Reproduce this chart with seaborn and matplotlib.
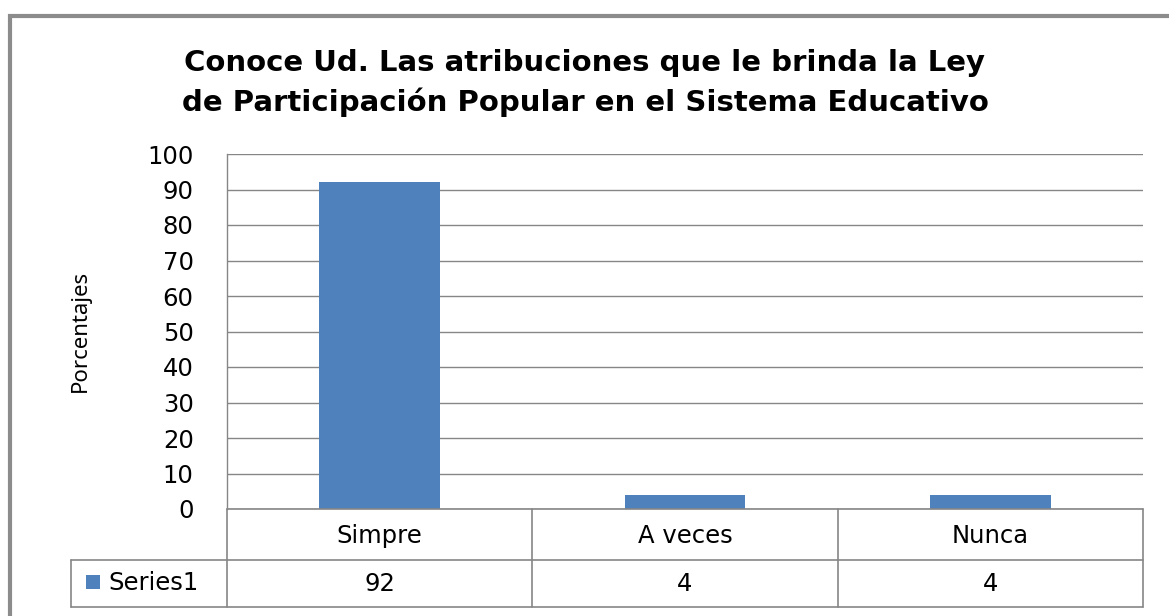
import matplotlib
matplotlib.use("Agg")
import matplotlib.pyplot as plt
from matplotlib.patches import Rectangle
import seaborn as sns

# data
categorias = ["Simpre", "A veces", "Nunca"]
porcentajes = [92, 4, 4]
serie = "Series1"
titulo = "Conoce Ud. Las atribuciones que le brinda la Ley\nde Participación Popular en el Sistema Educativo"

azul = "#4F81BD"
gris = "#868686"

sns.set_style("white")
plt.rcParams["font.family"] = ["DejaVu Sans"]
plt.rcParams["text.color"] = "black"

fig = plt.figure(figsize=(11.69, 6.16), dpi=100)
W, H = 1169, 616
# plot area in pixels: x 227..1143, y 154..509
ax = fig.add_axes([227 / W, 1 - 509 / H, (1143 - 227) / W, (509 - 154) / H])

sns.barplot(x=categorias, y=porcentajes, color=azul, saturation=1, width=0.395,
            linewidth=0, ax=ax)

ax.set_ylim(0, 100)
ax.set_xlim(-0.5, len(categorias) - 0.5)
ax.set_yticks(range(0, 101, 10))
ax.tick_params(axis="y", labelsize=17.5, length=0, pad=24, colors="black")
ax.set_xticks([])
ax.set_xlabel("")
ax.set_ylabel("")
ax.yaxis.grid(True, color=gris, linewidth=1)
ax.set_axisbelow(True)
for s in ["top", "right", "bottom"]:
    ax.spines[s].set_visible(False)
ax.spines["left"].set_color(gris)
ax.spines["left"].set_linewidth(1)

# outer chart border (runs off the right and bottom of the canvas)
fig.patches.append(Rectangle((10 / W, -0.2), 1.2, 1 - 16 / H + 0.2, transform=fig.transFigure,
                             fill=False, edgecolor="#8c8c8c", linewidth=3))

# title
fig.text(585 / W, 1 - 83 / H, titulo, ha="center", va="center", fontsize=21,
         fontweight="bold", linespacing=1.45, color="black")

# y label
fig.text(80 / W, 1 - 331 / H, "Porcentajes", rotation=90, ha="center", va="center",
         fontsize=16, family=["Noto Sans", "DejaVu Sans"], color="black")

# data table below the plot area, drawn in pixel coordinates
def px(x, y):
    return x / W, 1 - y / H

col_x = [227, 532, 838, 1143]
line_kw = dict(color=gris, linewidth=1.2, transform=fig.transFigure)
fig.lines.append(plt.Line2D(*zip(px(227, 509), px(1143, 509)), **line_kw))
fig.lines.append(plt.Line2D(*zip(px(71, 560), px(1143, 560)), **line_kw))
fig.lines.append(plt.Line2D(*zip(px(71, 607), px(1143, 607)), **line_kw))
fig.lines.append(plt.Line2D(*zip(px(71, 560), px(71, 607)), **line_kw))
for cx in col_x:
    fig.lines.append(plt.Line2D(*zip(px(cx, 509), px(cx, 607)), **line_kw))

for i, (cat, val) in enumerate(zip(categorias, porcentajes)):
    ax.text(i, -0.075, cat, transform=ax.get_xaxis_transform(), ha="center", va="center",
            fontsize=17.5, color="black")
    ax.text(i, -0.21, str(val), transform=ax.get_xaxis_transform(), ha="center", va="center",
            fontsize=17.5, color="black")

fig.patches.append(Rectangle(px(86, 589), 14 / W, 14 / H, transform=fig.transFigure,
                             facecolor=azul, edgecolor="none"))
fig.text(*px(108, 583), serie, ha="left", va="center", fontsize=17.5, color="black")

fig.savefig("out.png", dpi=100)
